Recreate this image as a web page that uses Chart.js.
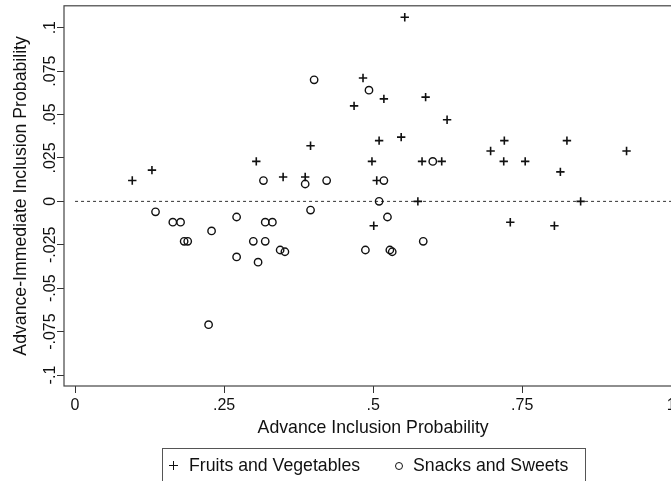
<!DOCTYPE html>
<html>
<head>
<meta charset="utf-8">
<script src="https://cdn.jsdelivr.net/npm/chart.js@4.4.0/dist/chart.umd.min.js"></script>
<style>
  html, body { margin: 0; padding: 0; background: #fff; overflow: hidden; }
  #wrap { position: relative; width: 700px; height: 481px; }
  #legend {
    position: absolute; left: 162px; top: 448px; width: 424px; height: 40px;
    border: 1px solid #555; box-sizing: border-box;
    font-family: "Liberation Sans", Arial, sans-serif; font-size: 17.7px; color: #111;
  }
  #legend .txt { position: absolute; top: 8px; line-height: 1; white-space: nowrap; }
  #legend .plus { position: absolute; width: 9px; height: 9px; }
  #legend .plus::before, #legend .plus::after { content: ""; position: absolute; background: #111; }
  #legend .plus::before { left: 0; top: 3.8px; width: 9px; height: 1.5px; }
  #legend .plus::after { left: 3.8px; top: 0; width: 1.5px; height: 9px; }
  #legend .ring { position: absolute; width: 8px; height: 8px; border: 1.4px solid #111; border-radius: 50%; box-sizing: border-box; }
</style>
</head>
<body>
<div id="wrap">
  <canvas id="chart" width="700" height="481"></canvas>
  <div id="legend">
    <span class="plus" style="left:6px; top:12px;"></span>
    <span class="txt" style="left:26px;">Fruits and Vegetables</span>
    <span class="ring" style="left:232px; top:12.5px;"></span>
    <span class="txt" style="left:250px;">Snacks and Sweets</span>
  </div>
</div>
<script>
// values
const fruitsX = [0.096, 0.129, 0.501, 0.575, 0.553, 0.483, 0.518, 0.588, 0.468, 0.624,
  0.395, 0.510, 0.547, 0.304, 0.498, 0.582, 0.615, 0.349, 0.386, 0.506,
  0.720, 0.825, 0.697, 0.925, 0.719, 0.755, 0.814, 0.848, 0.730, 0.804];
const fruitsY = [0.012, 0.018, -0.014, 0, 0.106, 0.071, 0.059, 0.060, 0.055, 0.047,
  0.032, 0.035, 0.037, 0.023, 0.023, 0.023, 0.023, 0.014, 0.014, 0.012,
  0.035, 0.035, 0.029, 0.029, 0.023, 0.023, 0.017, 0, -0.012, -0.014];

const snacksX = [0.135, 0.164, 0.177, 0.183, 0.189, 0.229, 0.224, 0.271, 0.271, 0.299,
  0.307, 0.319, 0.319, 0.331, 0.344, 0.352, 0.395, 0.510, 0.524, 0.487,
  0.528, 0.532, 0.584, 0.401, 0.493, 0.600, 0.316, 0.386, 0.422, 0.518];
const snacksY = [-0.006, -0.012, -0.012, -0.023, -0.023, -0.017, -0.071, -0.009, -0.032, -0.023,
  -0.035, -0.012, -0.023, -0.012, -0.028, -0.029, -0.005, 0, -0.009, -0.028,
  -0.028, -0.029, -0.023, 0.070, 0.064, 0.023, 0.012, 0.010, 0.012, 0.012];

const xTickValues = [0, 0.25, 0.5, 0.75, 1];
const xTickLabels = ['0', '.25', '.5', '.75', '1'];
const yTickValues = [-0.1, -0.075, -0.05, -0.025, 0, 0.025, 0.05, 0.075, 0.1];
const yTickLabels = ['-.1', '-.075', '-.05', '-.025', '0', '.025', '.05', '.075', '.1'];

// zero reference line
const refLineX = [0, 1.0185];
const refLineY = [0, 0];

const FONT = '"Liberation Sans", Arial, sans-serif';
const INK = '#111';

const toPts = (xs, ys) => xs.map((x, i) => ({ x, y: ys[i] }));

// frame box + rotated y tick labels
const framePlugin = {
  id: 'frame',
  afterDraw(chart) {
    const { ctx, chartArea: a, scales } = chart;
    ctx.save();
    ctx.strokeStyle = '#444';
    ctx.lineWidth = 1.2;
    ctx.strokeRect(a.left, a.top, a.right - a.left, a.bottom - a.top);

    ctx.fillStyle = INK;
    ctx.font = '16px ' + FONT;
    ctx.textAlign = 'center';
    ctx.textBaseline = 'middle';
    yTickValues.forEach((v, i) => {
      const py = scales.y.getPixelForValue(v);
      ctx.save();
      ctx.translate(50.5, py);
      ctx.rotate(-Math.PI / 2);
      ctx.fillText(yTickLabels[i], 0, 0);
      ctx.restore();
    });
    ctx.restore();
  }
};

new Chart(document.getElementById('chart'), {
  type: 'scatter',
  data: {
    datasets: [
      {
        label: 'Fruits and Vegetables',
        data: toPts(fruitsX, fruitsY),
        pointStyle: 'cross',
        pointRadius: 4.2,
        borderColor: INK,
        borderWidth: 1.6,
        backgroundColor: INK
      },
      {
        label: 'Snacks and Sweets',
        data: toPts(snacksX, snacksY),
        pointStyle: 'circle',
        pointRadius: 3.7,
        borderColor: INK,
        borderWidth: 1.4,
        backgroundColor: 'rgba(0,0,0,0)'
      },
      {
        type: 'line',
        label: 'zero',
        data: toPts(refLineX, refLineY),
        borderColor: '#333',
        borderWidth: 1,
        borderDash: [3, 3],
        pointRadius: 0,
        fill: false
      }
    ]
  },
  options: {
    responsive: false,
    animation: false,
    devicePixelRatio: 1,
    layout: { padding: { left: 0, top: 5, right: 17.7, bottom: 40 } },
    plugins: { legend: { display: false }, tooltip: { enabled: false } },
    scales: {
      x: {
        type: 'linear',
        min: -0.0185,
        max: 1.0185,
        afterBuildTicks: (s) => { s.ticks = xTickValues.map(v => ({ value: v })); },
        afterFit: (s) => { s.height = 55; },
        border: { display: false },
        grid: { drawOnChartArea: false, drawTicks: true, tickLength: 7, color: '#333', tickWidth: 1 },
        ticks: {
          padding: 3,
          color: INK,
          font: { family: FONT, size: 16 },
          maxRotation: 0,
          callback: (v) => {
            const i = xTickValues.indexOf(v);
            return i >= 0 ? xTickLabels[i] : '';
          }
        },
        title: {
          display: true,
          text: 'Advance Inclusion Probability',
          color: INK,
          font: { family: FONT, size: 17.7 },
          padding: { top: 0, bottom: 2.4 }
        }
      },
      y: {
        type: 'linear',
        min: -0.1063,
        max: 0.1126,
        afterBuildTicks: (s) => { s.ticks = yTickValues.map(v => ({ value: v })); },
        afterFit: (s) => { s.width = 64; },
        border: { display: false },
        grid: { drawOnChartArea: false, drawTicks: true, tickLength: 7, color: '#333', tickWidth: 1 },
        ticks: { display: false },
        title: {
          display: true,
          text: 'Advance-Immediate Inclusion Probability',
          color: INK,
          font: { family: FONT, size: 17.7 },
          padding: { top: 10, bottom: 0 }
        }
      }
    }
  },
  plugins: [framePlugin]
});
</script>
</body>
</html>
